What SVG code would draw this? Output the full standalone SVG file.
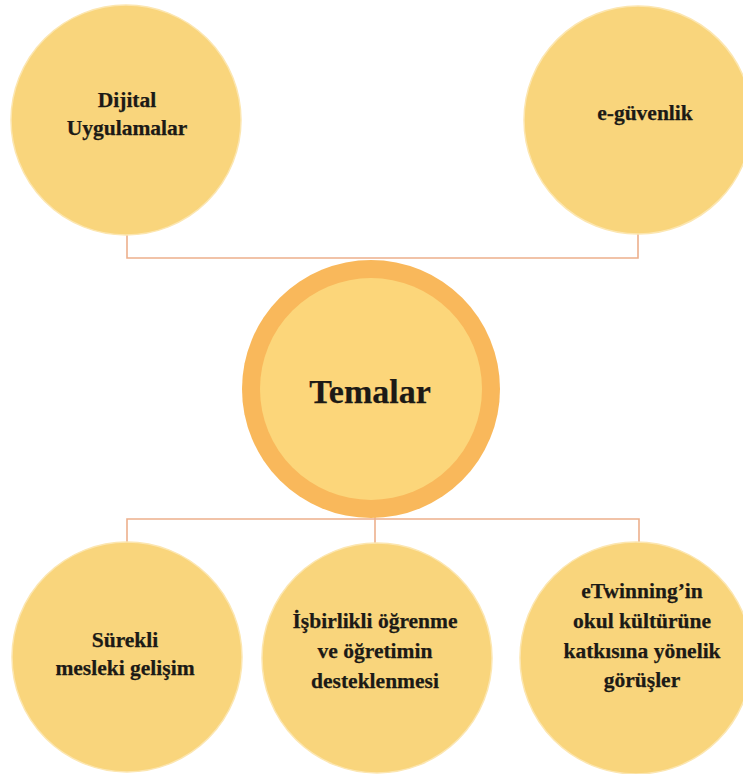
<svg xmlns="http://www.w3.org/2000/svg" width="743" height="774" viewBox="0 0 743 774">
<style>
.node{fill:#F9D57C;stroke:#FCE6B0;stroke-width:1.5}
.conn{fill:none;stroke:#EDB08C;stroke-width:1.6}
.lbl{font-family:"Liberation Serif","Times New Roman",serif;font-weight:bold;font-size:21.5px;fill:#1c1a16;text-anchor:middle;stroke:#1c1a16;stroke-width:0.25}
.big{font-size:34px}
</style>
<rect width="743" height="774" fill="#ffffff"/>
<g id="connectors">
<polyline class="conn" points="127,234 127,258 638,258 638,232"/>
<polyline class="conn" points="127,543 127,519 639,519 639,543"/>
<line class="conn" x1="375" y1="516" x2="375" y2="543"/>
</g>
<g id="dijital">
<circle class="node" cx="126" cy="120" r="115"/>
<text class="lbl" x="127" y="107">Dijital</text>
<text class="lbl" x="127" y="135">Uygulamalar</text>
</g>
<g id="eguvenlik">
<circle class="node" cx="638" cy="120" r="114"/>
<text class="lbl" x="645" y="120">e-güvenlik</text>
</g>
<g id="temalar">
<circle cx="371" cy="389" r="129" fill="#F9B85B"/>
<circle cx="371" cy="389" r="111" fill="#FCD67A"/>
<text class="lbl big" x="370" y="403">Temalar</text>
</g>
<g id="surekli">
<circle class="node" cx="127" cy="657" r="115"/>
<text class="lbl" x="125" y="647">Sürekli</text>
<text class="lbl" x="125" y="675">mesleki gelişim</text>
</g>
<g id="isbirlikli">
<circle class="node" cx="377" cy="658" r="115"/>
<text class="lbl" x="375" y="628">İşbirlikli öğrenme</text>
<text class="lbl" x="375" y="658">ve öğretimin</text>
<text class="lbl" x="375" y="688">desteklenmesi</text>
</g>
<g id="etwinning">
<circle class="node" cx="636" cy="658" r="116"/>
<text class="lbl" x="642" y="598">eTwinning’in</text>
<text class="lbl" x="642" y="628">okul kültürüne</text>
<text class="lbl" x="642" y="658">katkısına yönelik</text>
<text class="lbl" x="642" y="687">görüşler</text>
</g>
</svg>
